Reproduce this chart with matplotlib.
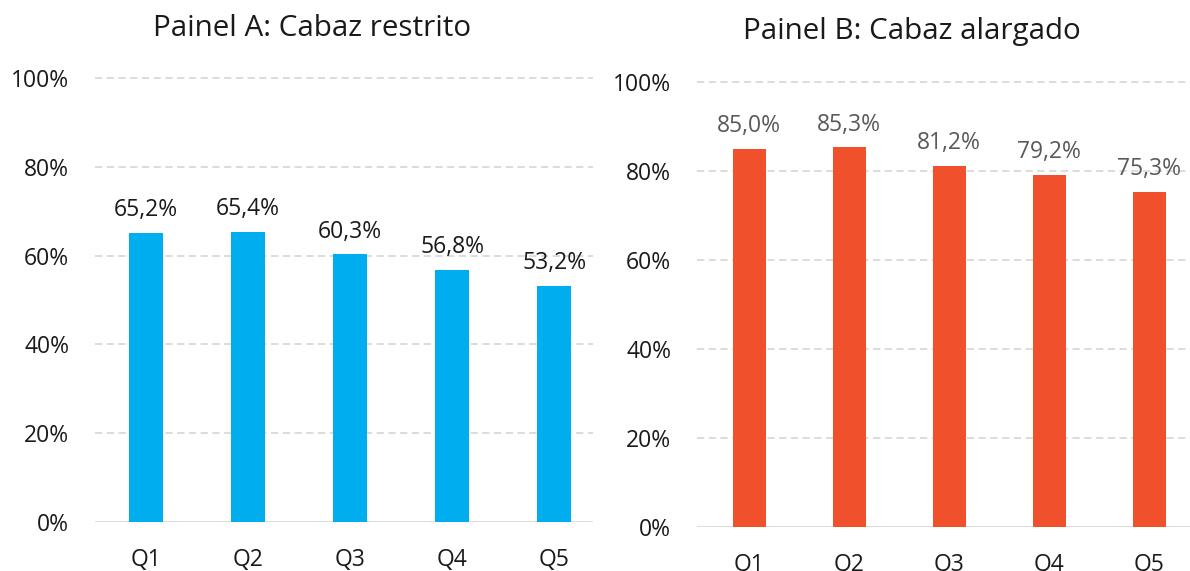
import numpy as np
import matplotlib
matplotlib.use('Agg')
import matplotlib.pyplot as plt

plt.rcParams['font.family'] = ['Open Sans', 'DejaVu Sans']

quintis = ['Q1', 'Q2', 'Q3', 'Q4', 'Q5']
restrito = [65.2, 65.4, 60.3, 56.8, 53.2]
alargado = [85.0, 85.3, 81.2, 79.2, 75.3]
yticks = [0, 20, 40, 60, 80, 100]

W, H = 1190, 571
fig = plt.figure(figsize=(W / 100, H / 100), dpi=100)

top = 1.04


def painel(ax, vals, color, width, lab_color, xlim):
    x = np.arange(len(quintis))
    ax.bar(x, vals, width=width, color=color, zorder=3)
    for xi, v in zip(x, vals):
        ax.annotate(f'{v:.1f}%'.replace('.', ','), (xi, v), xytext=(0, 12),
                    textcoords='offset points', ha='center', va='baseline',
                    fontsize=16.5, color=lab_color)
    ax.set_ylim(0, 100 * top)
    ax.set_xlim(*xlim)
    ax.set_yticks(yticks)
    ax.set_yticklabels([f'{t}%' for t in yticks])
    ax.set_xticks(x)
    ax.set_xticklabels(quintis)
    ax.tick_params(axis='both', length=0, labelsize=16.5, colors='#1a1a1a')
    ax.tick_params(axis='y', pad=18.5)
    ax.tick_params(axis='x', pad=19)
    for s in ax.spines.values():
        s.set_visible(False)
    for t in yticks[1:]:
        ax.axhline(t, color='#d9d9d9', lw=1.3, ls=(0, (4, 2.5)), zorder=1)
    ax.axhline(0, color='#d9d9d9', lw=2, zorder=2)


# Painel A
axA = fig.add_axes([95 / W, (H - 522) / H, 498 / W, 444 * top / H])
painel(axA, restrito, '#00aeef', 0.333, '#1a1a1a', (-0.5, 4.38))
fig.text(312 / W, 1 - 28 / H, 'Painel A: Cabaz restrito', ha='center',
         va='center', fontsize=21.3, color='#1a1a1a')

# Painel B
axB = fig.add_axes([697 / W, (H - 527) / H, 493 / W, 445 * top / H])
painel(axB, alargado, '#f0502c', 0.33, '#595959', (-0.52, 4.41))
fig.text(912 / W, 1 - 32 / H, 'Painel B: Cabaz alargado', ha='center',
         va='center', fontsize=21.3, color='#1a1a1a')

fig.savefig('out.png', dpi=100)
